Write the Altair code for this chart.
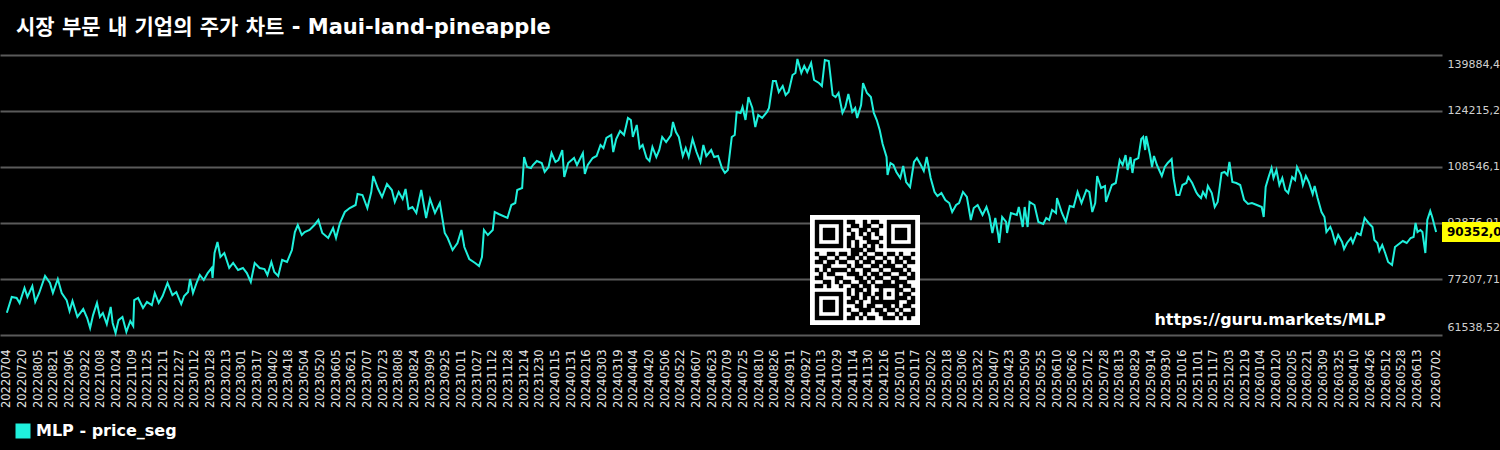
import altair as alt
import pandas as pd

TITLE = "시장 부문 내 기업의 주가 차트 - Maui-land-pineapple"
SERIES_NAME = "MLP - price_seg"
WATERMARK = "https://guru.markets/MLP"
CYAN = "#1ff0dc"
START_DATE = "2022-07-04"
LAST_REGULAR_TICK = "2026-06-13"
LAST_DATE = "2026-07-02"
TICK_STEP = "16D"
X_DOMAIN = ["2022-06-27", "2026-07-08"]
Y_TICKS = [61538.52, 77207.71, 92876.91, 108546.10, 124215.29, 139884.48]

# (days since START_DATE, price)
SERIES = [
    (0, 67780), (5, 72170), (10, 71900), (13, 70500), (18, 74700), (21, 72200), (26, 75250), (29, 70800),
    (33, 73300), (39, 78050), (44, 76100), (47, 73300), (52, 77200), (56, 73300), (61, 71300), (64, 68250),
    (67, 71050), (72, 66600), (78, 68800), (82, 66300), (85, 63500), (88, 67100), (92, 70500), (95, 66600),
    (98, 67700), (102, 64600), (106, 69400), (108, 64900), (111, 62100), (114, 65700), (118, 66600), (122, 62400),
    (126, 65450), (129, 64060), (130, 71300), (134, 71900), (139, 69100), (143, 70800), (148, 69900), (151, 73300),
    (155, 70500), (159, 72450), (164, 76100), (169, 72700), (173, 73570), (178, 70200), (181, 72450), (185, 73570),
    (187, 77200), (190, 73300), (194, 76370), (197, 78330), (201, 76930), (205, 78880), (209, 80290), (210, 77490),
    (212, 84480), (215, 87560), (218, 83370), (222, 84480), (227, 80290), (231, 81690), (236, 79720), (241, 80290),
    (245, 78880), (249, 76370), (253, 81690), (258, 80290), (263, 80000), (266, 78330), (270, 81960), (273, 79170),
    (277, 78050), (281, 82530), (286, 81960), (291, 85320), (294, 90360), (297, 92320), (301, 89520), (304, 90360),
    (309, 90920), (314, 92320), (318, 93720), (322, 90080), (328, 88680), (333, 91480), (336, 88680), (340, 92880),
    (345, 95960), (350, 97070), (356, 97910), (358, 100990), (363, 100710), (368, 97070), (372, 101550), (374, 106030),
    (379, 102390), (383, 100150), (388, 103790), (393, 102110), (396, 98750), (400, 101550), (404, 99590), (407, 102390),
    (410, 96790), (414, 97350), (418, 95680), (423, 102110), (428, 94280), (432, 99590), (437, 95680), (442, 98470),
    (447, 90080), (450, 88680), (455, 85320), (460, 87280), (464, 90920), (467, 86160), (472, 82810), (478, 81690),
    (482, 80850), (485, 83370), (487, 90920), (491, 89520), (496, 90920), (498, 95960), (502, 95400),
    (511, 94280), (515, 97910), (519, 98470), (521, 102110), (526, 102670), (528, 111340), (531, 108550), (535, 108270),
    (537, 109100), (541, 110220), (546, 109660), (549, 107150), (553, 108550), (556, 112460), (560, 109940), (563, 110500),
    (567, 113300), (569, 105750), (573, 109660), (579, 111060), (582, 109100), (588, 112460), (590, 106590), (593, 109100),
    (598, 111060), (602, 111620), (606, 114700), (609, 113860), (612, 116660), (617, 117500), (619, 112740), (622, 116380),
    (626, 118620), (630, 117500), (634, 122260), (637, 121700), (639, 116940), (643, 120300), (646, 113860), (649, 114700),
    (653, 111060), (656, 110220), (659, 114140), (663, 111340), (666, 113300), (669, 116940), (673, 115540), (678, 117500),
    (680, 121140), (683, 118340), (686, 116940), (690, 111620), (693, 113860), (696, 111340), (700, 116380), (704, 112740),
    (708, 109940), (711, 114700), (714, 111620), (719, 113300), (722, 111340), (726, 111620), (730, 108270), (733, 106870),
    (736, 107710), (740, 116940), (743, 117500), (745, 123940), (749, 123660), (751, 125340), (754, 121700), (757, 128130),
    (761, 125060), (764, 119740), (767, 123100), (771, 122260), (776, 123940), (778, 125060), (782, 132610), (785, 132610),
    (788, 129530), (792, 131210), (795, 128690), (798, 129530), (802, 134290), (805, 134850), (807, 138770), (811, 134850),
    (814, 136810), (817, 135130), (821, 137650), (824, 132890), (829, 132050), (832, 131210), (835, 138490), (839, 138210),
    (843, 128690), (846, 128130), (849, 129250), (853, 123660), (856, 125340), (859, 128970), (863, 123940), (866, 125060),
    (868, 122260), (872, 125900), (874, 132050), (878, 129250), (882, 128130), (885, 123660), (888, 121700), (891, 118900),
    (894, 114980), (898, 111340), (899, 106310), (902, 109660), (905, 109100), (908, 107150), (912, 105470), (915, 108830),
    (918, 104350), (922, 102950), (926, 109940), (929, 111060), (933, 109100), (936, 107430), (939, 111340), (943, 105470),
    (947, 101550), (950, 100430), (954, 101270), (958, 99310), (962, 98470), (965, 95960), (969, 97910), (972, 98470),
    (976, 101550), (980, 100150), (984, 93720), (987, 97070), (991, 97910), (996, 95120), (1000, 97350), (1003, 94840),
    (1006, 90080), (1009, 94280), (1012, 89520),
    (1013, 87280), (1016, 94560), (1020, 93160), (1021, 90080), (1025, 95680), (1031, 95120), (1033, 97350), (1037, 91760),
    (1039, 97350), (1042, 91760), (1044, 98750), (1049, 97910), (1053, 93160), (1058, 92600), (1061, 94280), (1064, 93720),
    (1067, 96510), (1071, 95680), (1072, 99870), (1077, 95680), (1081, 93160), (1085, 97630), (1089, 97350), (1093, 101550),
    (1097, 98470), (1102, 102110), (1105, 101550), (1108, 95960), (1111, 98470), (1113, 106030), (1117, 102670), (1121, 103230),
    (1122, 98750), (1128, 103510), (1132, 104070), (1136, 110500), (1139, 109100), (1142, 111900), (1144, 107710), (1147, 111340),
    (1149, 106870), (1151, 110500), (1155, 111060), (1158, 116380), (1160, 116940), (1162, 113300), (1163, 117220), (1167, 111900),
    (1169, 108550), (1171, 111620), (1174, 109100), (1179, 106030), (1182, 108550), (1185, 109660), (1189, 110780), (1191, 105470),
    (1194, 100710), (1197, 100710), (1200, 103510), (1204, 104070), (1206, 105750), (1210, 104070), (1214, 101550), (1216, 100710),
    (1219, 99870), (1221, 101550), (1224, 100150), (1226, 103230), (1230, 101270), (1233, 97350), (1236, 98750), (1240, 106870),
    (1243, 107150), (1246, 106310), (1248, 109940), (1251, 104350), (1255, 104070), (1259, 103510), (1263, 99310), (1267, 98190),
    (1271, 98470), (1276, 97910), (1281, 97350), (1283, 94560), (1285, 102950), (1288, 105750), (1291, 108270), (1293, 105470),
    (1296, 107710), (1299, 103510), (1302, 105470), (1305, 102110), (1308, 101270), (1312, 105750), (1315, 104910), (1317, 108550),
    (1321, 106310), (1323, 103510), (1326, 106030), (1329, 104350), (1333, 100990), (1335, 103230), (1338, 99870), (1342, 95960),
    (1345, 94560), (1347, 90360), (1351, 91760), (1353, 90360), (1356, 87280), (1359, 89520), (1363, 87560), (1365, 85600),
    (1368, 87280), (1372, 88680), (1374, 87280), (1378, 90080), (1382, 89520), (1386, 94280), (1390, 92880), (1394, 91760),
    (1396, 88120), (1399, 87280), (1401, 85040), (1404, 86720), (1407, 84480), (1410, 81960), (1414, 81130), (1417, 86160),
    (1421, 86990), (1425, 87840), (1429, 87280), (1433, 88680), (1436, 88960), (1438, 92880), (1440, 90360), (1443, 90920),
    (1445, 90360), (1448, 84480), (1450, 93720), (1453, 96230), (1455, 94560), (1459, 90352),
]

QR_ROWS = [
    "1111111" "0" "110010110" "0" "1111111",
    "1000001" "0" "011011001" "0" "1000001",
    "1011101" "0" "100110110" "0" "1011101",
    "1011101" "0" "010101010" "0" "1011101",
    "1011101" "0" "110011001" "0" "1011101",
    "1000001" "0" "101001110" "0" "1000001",
    "1111111" "0" "101010101" "0" "1111111",
    "0000000" "0" "011101100" "0" "0000000",
    "1001101" "1" "011010011" "0" "1101001",
    "0110010" "0" "110101100" "1" "0010110",
    "1101101" "1" "001011011" "0" "1011011",
    "0011000" "0" "101100110" "1" "1100100",
    "1010111" "1" "010011001" "0" "0111010",
    "0101100" "0" "111010110" "1" "1001101",
    "1100011" "0" "001101011" "0" "0110011",
    "0011010" "1" "100110100" "1" "1011100",
    "1101001001101101" "11111" "0110",
    "00000000" "1" "0110100" "10001" "1001",
    "1111111" "0" "10101101" "10101" "0110",
    "1000001" "0" "01101010" "10001" "1101",
    "1011101" "0" "11010011" "11111" "0011",
    "1011101" "0" "00110110" "011010110",
    "1011101" "0" "10011101" "101101001",
    "1000001" "0" "01101000" "110010111",
    "1111111" "0" "11010110" "011101010",
]

FONT = "DejaVu Sans"

df = pd.DataFrame(SERIES, columns=["day", "price"])
df["date"] = pd.Timestamp(START_DATE) + pd.to_timedelta(df["day"], unit="D")
df["series"] = SERIES_NAME

last = df.tail(1).copy()
last["label"] = last["price"].map(lambda v: f"{v:.2f}".replace(".", ","))

tick_dates = list(pd.date_range(START_DATE, LAST_REGULAR_TICK, freq=TICK_STEP)) + [pd.Timestamp(LAST_DATE)]


def dt(ts):
    ts = pd.Timestamp(ts)
    return alt.DateTime(year=ts.year, month=ts.month, date=ts.day)


x_scale = alt.Scale(domain=[dt(X_DOMAIN[0]), dt(X_DOMAIN[1])])
y_scale = alt.Scale(domain=[Y_TICKS[0], Y_TICKS[-1]], nice=False, zero=False)

line = alt.Chart(df).mark_line(strokeWidth=2).encode(
    x=alt.X(
        "date:T",
        scale=x_scale,
        axis=alt.Axis(
            values=[dt(t) for t in tick_dates],
            format="%Y%m%d",
            labelAngle=270,
            labelOverlap=False,
            labelFlush=False,
            labelPadding=14,
            ticks=False,
            domain=False,
            grid=False,
            labelFontSize=11.5,
            labelColor="#e6e6e6",
            labelFont=FONT,
            title=None,
        ),
    ),
    y=alt.Y(
        "price:Q",
        scale=y_scale,
        axis=alt.Axis(
            orient="right",
            values=Y_TICKS,
            labelExpr="replace(format(datum.value, '.2f'), '.', ',')",
            grid=True,
            gridColor="#5a5a5a",
            gridWidth=2,
            ticks=False,
            domain=False,
            labelFlush=True,
            labelFlushOffset=-3,
            labelPadding=5,
            labelFontSize=11,
            labelColor="#d0d0d0",
            labelFont=FONT,
            title=None,
        ),
    ),
    color=alt.Color(
        "series:N",
        scale=alt.Scale(domain=[SERIES_NAME], range=[CYAN]),
        legend=alt.Legend(
            orient="none",
            legendX=15,
            legendY=368,
            title=None,
            padding=0,
            symbolType="square",
            symbolSize=225,
            symbolFillColor=CYAN,
            symbolStrokeColor=CYAN,
            symbolStrokeWidth=0,
            labelOffset=5,
            labelFont=FONT,
            labelFontSize=16,
            labelFontWeight="bold",
            labelColor="#ffffff",
        ),
    ),
)

box = alt.Chart(last).mark_tick(orient="horizontal", thickness=20, size=80, color="#ffff00", opacity=1).encode(
    x=alt.value(1482),
    y=alt.Y("price:Q"),
)
value_text = alt.Chart(last).mark_text(
    align="left", baseline="middle", font=FONT, fontWeight="bold", fontSize=12, color="#000000"
).encode(x=alt.value(1447), y=alt.Y("price:Q"), text="label:N")

watermark = alt.Chart(pd.DataFrame({"t": [WATERMARK]})).mark_text(
    font=FONT, fontWeight="bold", fontSize=16, color="#ffffff", align="center", baseline="middle"
).encode(x=alt.value(1270), y=alt.value(265), text="t:N")

main = alt.layer(line, box, value_text, watermark)

cells = [(r, c) for r, row in enumerate(QR_ROWS) for c, ch in enumerate(row) if ch == "1"]
qr_df = pd.DataFrame(cells, columns=["r", "c"])
qr_df["r2"] = qr_df["r"] + 1
qr_df["c2"] = qr_df["c"] + 1

qr_bg = alt.Chart(pd.DataFrame({"k": [0]})).mark_rect(color="#ffffff").encode(
    x=alt.value(810), x2=alt.value(920), y=alt.value(160), y2=alt.value(270)
)
qr_cells = alt.Chart(qr_df).mark_rect(color="#000000", stroke="#000000", strokeWidth=0.4).encode(
    x=alt.X("c:Q", scale=alt.Scale(domain=[0, 25], range=[815, 915]), axis=None),
    x2="c2:Q",
    y=alt.Y("r:Q", scale=alt.Scale(domain=[0, 25], range=[165, 265]), axis=None),
    y2="r2:Q",
)
qr = alt.layer(qr_bg, qr_cells)

chart = (
    alt.layer(main, qr)
    .resolve_scale(x="independent", y="independent")
    .properties(
        width=1442,
        height=280,
        padding={"left": 0, "top": 55, "right": 58, "bottom": 115},
        autosize="none",
        background="#000000",
        title=alt.TitleParams(
            TITLE,
            anchor="start",
            dx=16,
            dy=20,
            offset=20,
            baseline="alphabetic",
            font="DejaVu Sans, Noto Sans CJK KR",
            fontSize=21,
            fontWeight="bold",
            color="#ffffff",
        ),
    )
    .configure_view(stroke=None)
)

chart.save("out.html", embed_options={"renderer": "svg", "actions": False})
